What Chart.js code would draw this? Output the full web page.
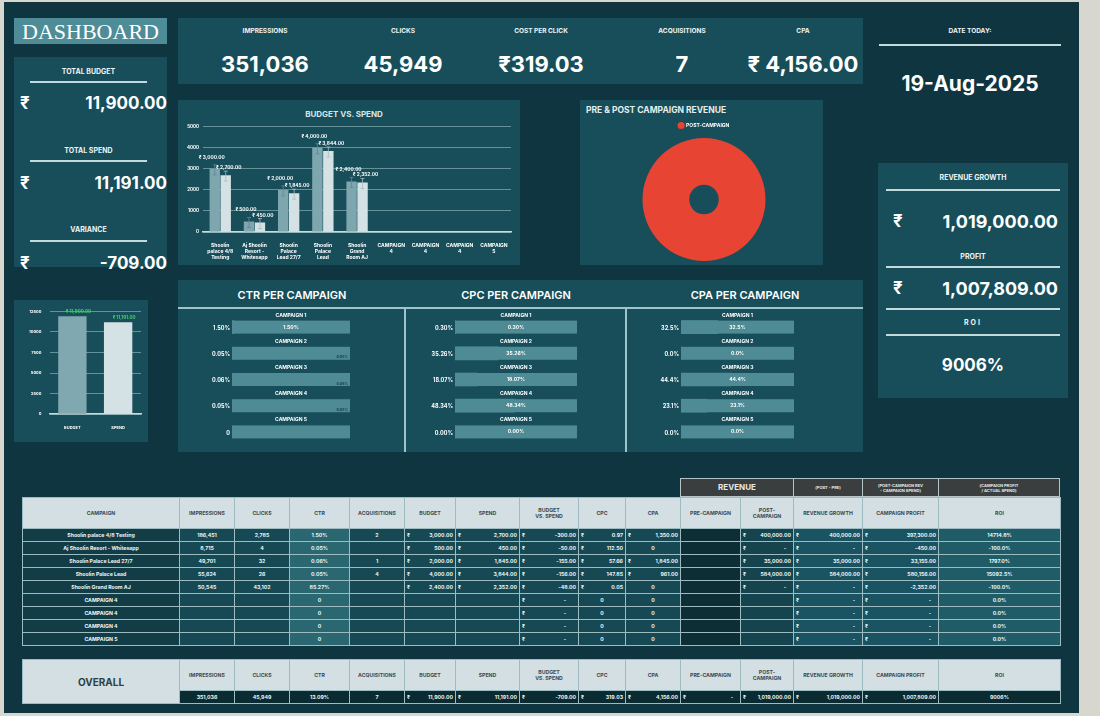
<!DOCTYPE html>
<html>
<head>
<meta charset="utf-8">
<script src="https://cdn.jsdelivr.net/npm/chart.js@4.4.1/dist/chart.umd.min.js"></script>
<style>
body{margin:0;width:1100px;height:716px;background:#d8d7cf;font-family:Inter,"Open Sans",sans-serif;overflow:hidden;position:relative;color:#fff}
.board{position:absolute;left:4px;top:2px;width:1075px;height:711px;background:#0e3540}
.panel{position:absolute;background:#184e5a}
.t{position:absolute;white-space:nowrap;font-weight:700;text-align:center}
.line{position:absolute;height:2px;background:#c3dbdc}
.lbl{font-size:7px;color:#eef4f4}
.big{font-size:17px}
canvas{position:absolute}
table{position:absolute;left:22px;border-collapse:collapse;table-layout:fixed;font-size:5.2px;font-weight:700;color:#eef6f6}
td{border:1px solid #9cbcc1;padding:0 2px;white-space:nowrap;overflow:hidden;text-align:center}
td.cur{text-align:right}
td.cur span{float:left}
tr.hd td{background:#d3dfe2;color:#3d4b4f;height:30px;white-space:normal;line-height:6px}
.rv{position:absolute;top:478px;height:19px;background:#3b3e3f;border:1px solid #b5c4c6;box-sizing:border-box;font-size:4px;font-weight:700;display:flex;align-items:center;justify-content:center;text-align:center;line-height:5px;color:#e8e8e8}
</style>
</head>
<body>
<div class="board"></div>

<!-- left column -->
<div class="t" style="left:14px;top:18px;width:153px;height:26px;background:#4e8c97;font-family:'Liberation Serif',serif;font-weight:400;font-size:22px;line-height:27px">DASHBOARD</div>
<div class="panel" style="left:14px;top:57px;width:153px;height:210px"></div>
<div class="t lbl" style="left:30px;top:67px;width:117px">TOTAL BUDGET</div>
<div class="line" style="left:30px;top:81px;width:117px"></div>
<div class="t big" style="left:20px;top:93px">₹</div>
<div class="t big" style="left:60px;top:93px;width:107px;text-align:right">11,900.00</div>
<div class="t lbl" style="left:30px;top:146px;width:117px">TOTAL SPEND</div>
<div class="line" style="left:30px;top:160px;width:117px"></div>
<div class="t big" style="left:20px;top:173px">₹</div>
<div class="t big" style="left:60px;top:173px;width:107px;text-align:right">11,191.00</div>
<div class="t lbl" style="left:30px;top:225px;width:117px">VARIANCE</div>
<div class="line" style="left:30px;top:240px;width:117px"></div>
<div class="t big" style="left:20px;top:253px">₹</div>
<div class="t big" style="left:60px;top:253px;width:107px;text-align:right">-709.00</div>
<div class="panel" style="left:14px;top:300px;width:134px;height:142px"></div>
<canvas id="totalChart" width="132" height="140" style="left:15px;top:301px"></canvas>

<!-- kpi strip -->
<div class="panel" style="left:178px;top:18px;width:685px;height:66px"></div>
<div class="t lbl" style="left:215px;top:27px;width:100px;font-size:6.5px">IMPRESSIONS</div>
<div class="t lbl" style="left:353px;top:27px;width:100px;font-size:6.5px">CLICKS</div>
<div class="t lbl" style="left:491px;top:27px;width:100px;font-size:6.5px">COST PER CLICK</div>
<div class="t lbl" style="left:632px;top:27px;width:100px;font-size:6.5px">ACQUISITIONS</div>
<div class="t lbl" style="left:753px;top:27px;width:100px;font-size:6.5px">CPA</div>
<div class="t" style="left:195px;top:51px;width:140px;font-size:22px">351,036</div>
<div class="t" style="left:333px;top:51px;width:140px;font-size:22px">45,949</div>
<div class="t" style="left:471px;top:51px;width:140px;font-size:22px">₹319.03</div>
<div class="t" style="left:612px;top:51px;width:140px;font-size:22px">7</div>
<div class="t" style="left:733px;top:51px;width:140px;font-size:22px">₹ 4,156.00</div>

<!-- budget vs spend -->
<div class="panel" style="left:178px;top:100px;width:342px;height:165px"></div>
<div class="t" style="left:178px;top:109px;width:332px;font-size:8px;color:#d7e5e7">BUDGET VS. SPEND</div>
<canvas id="bvsChart" width="336" height="142" style="left:181px;top:120px"></canvas>

<!-- revenue doughnut -->
<div class="panel" style="left:580px;top:100px;width:243px;height:165px"></div>
<div class="t" style="left:586px;top:105px;font-size:8.5px;color:#e4eeee">PRE &amp; POST CAMPAIGN REVENUE</div>
<canvas id="revChart" width="240" height="144" style="left:584px;top:117px"></canvas>

<!-- date + revenue growth -->
<div class="t lbl" style="left:900px;top:27px;width:140px;font-size:6.5px">DATE TODAY:</div>
<div class="line" style="left:879px;top:44px;width:182px"></div>
<div class="t" style="left:880px;top:71px;width:180px;font-size:21px">19-Aug-2025</div>
<div class="panel" style="left:878px;top:163px;width:190px;height:235px"></div>
<div class="t lbl" style="left:886px;top:173px;width:174px">REVENUE GROWTH</div>
<div class="line" style="left:886px;top:189px;width:174px"></div>
<div class="t big" style="left:893px;top:211px">₹</div>
<div class="t" style="left:900px;top:211px;width:158px;text-align:right;font-size:18px">1,019,000.00</div>
<div class="t lbl" style="left:886px;top:252px;width:174px">PROFIT</div>
<div class="line" style="left:886px;top:266px;width:174px"></div>
<div class="t big" style="left:893px;top:278px">₹</div>
<div class="t" style="left:900px;top:278px;width:158px;text-align:right;font-size:18px">1,007,809.00</div>
<div class="line" style="left:886px;top:308px;width:174px"></div>
<div class="t lbl" style="left:886px;top:318px;width:174px;letter-spacing:2px">ROI</div>
<div class="line" style="left:886px;top:334px;width:174px"></div>
<div class="t" style="left:886px;top:355px;width:174px;font-size:17px">9006%</div>

<!-- per campaign bars -->
<div class="panel" style="left:178px;top:280px;width:685px;height:172px"></div>
<div class="t" style="left:180px;top:288px;width:224px;font-size:11px;font-weight:600">CTR PER CAMPAIGN</div>
<div class="t" style="left:405px;top:288px;width:222px;font-size:11px;font-weight:600">CPC PER CAMPAIGN</div>
<div class="t" style="left:626px;top:288px;width:238px;font-size:11px;font-weight:600">CPA PER CAMPAIGN</div>
<div class="line" style="left:178px;top:307px;width:685px;background:#9fc4c8"></div>
<div class="line" style="left:404px;top:307px;width:2px;height:145px;background:#9fc4c8"></div>
<div class="line" style="left:625px;top:307px;width:2px;height:145px;background:#9fc4c8"></div>
<canvas id="ctrChart" width="223" height="141" style="left:180px;top:309px"></canvas>
<canvas id="cpcChart" width="217" height="141" style="left:407px;top:309px"></canvas>
<canvas id="cpaChart" width="233" height="141" style="left:628px;top:309px"></canvas>

<!-- table -->
<div class="rv" style="left:680px;width:114px;font-size:8px">REVENUE</div>
<div class="rv" style="left:793px;width:70px">(POST - PRE)</div>
<div class="rv" style="left:862px;width:77px">(POST-CAMPAIGN REV<br>- CAMPAIGN SPEND)</div>
<div class="rv" style="left:938px;width:122px">(CAMPAIGN PROFIT<br>/ ACTUAL SPEND)</div>
<table id="mainTable" style="top:497px;width:1038px"></table>
<table id="overallTable" style="top:659px;width:1038px"></table>

<script>
// budget vs spend chart
const bvsLabels = [['Shoolin', 'palace 4/8', 'Testing'], ['Aj Shoolin', 'Resort -', 'Whitesapp'], ['Shoolin', 'Palace', 'Lead 27/7'], ['Shoolin', 'Palace', 'Lead'], ['Shoolin', 'Grand', 'Room AJ'], ['CAMPAIGN', '4'], ['CAMPAIGN', '4'], ['CAMPAIGN', '4'], ['CAMPAIGN', '5']];
const bvsBudget = [3000, 500, 2000, 4000, 2400, null, null, null, null];
const bvsSpend = [2700, 450, 1845, 3844, 2352, null, null, null, null];

// pre & post revenue
const revLabels = ['PRE-CAMPAIGN', 'POST-CAMPAIGN'];
const revValues = [0, 1019000];

// total budget / spend
const totalLabels = ['BUDGET', 'SPEND'];
const totalValues = [11900, 11191];

// per campaign shares
const rowNames = ['CAMPAIGN 1', 'CAMPAIGN 2', 'CAMPAIGN 3', 'CAMPAIGN 4', 'CAMPAIGN 5'];
const ctrValues = [1.50, 0.05, 0.06, 0.05, 0];
const cpcValues = [0.30, 35.26, 18.07, 48.34, 0.00];
const cpaValues = [32.5, 0.0, 44.4, 23.1, 0.0];

// table columns
const tblHeaders = ['CAMPAIGN', 'IMPRESSIONS', 'CLICKS', 'CTR', 'ACQUISITIONS', 'BUDGET', 'SPEND', 'BUDGET<br>vs. SPEND', 'CPC', 'CPA', 'PRE-CAMPAIGN', 'POST-<br>CAMPAIGN', 'REVENUE GROWTH', 'CAMPAIGN PROFIT', 'ROI'];
const tblCampaign = ['Shoolin palace 4/8 Testing', 'Aj Shoolin Resort - Whitesapp', 'Shoolin Palace Lead 27/7', 'Shoolin Palace Lead', 'Shoolin Grand Room AJ', 'CAMPAIGN 4', 'CAMPAIGN 4', 'CAMPAIGN 4', 'CAMPAIGN 5'];
const tblImpressions = [186451, 8715, 49701, 55624, 50545, null, null, null, null];
const tblClicks = [2785, 4, 32, 26, 43102, null, null, null, null];
const tblCtr = [1.50, 0.05, 0.06, 0.05, 85.27, 0, 0, 0, 0];
const tblAcq = [2, null, 1, 4, null, null, null, null, null];
const tblBudget = [3000, 500, 2000, 4000, 2400, null, null, null, null];
const tblSpend = [2700, 450, 1845, 3844, 2352, null, null, null, null];
const tblBvs = [-300, -50, -155, -156, -48, null, null, null, null];
const tblCpc = [0.97, 112.50, 57.66, 147.85, 0.05, 0, 0, 0, 0];
const tblCpa = [1350, 0, 1845, 961, 0, 0, 0, 0, 0];
const tblPost = [400000, 0, 35000, 584000, 0, null, null, null, null];
const tblGrowth = [400000, 0, 35000, 584000, 0, 0, 0, 0, 0];
const tblProfit = [397300, -450, 33155, 580156, -2352, 0, 0, 0, 0];
const tblRoi = [14714.8, -100.0, 1797.0, 15092.5, -100.0, 0, 0, 0, 0];
const overallValues = ['351,036', '45,949', '13.09%', '7', 11900, 11191, -709, 319.03, 4156, 0, 1019000, 1019000, 1007809, '9006%'];

const colWidths = [157, 55, 55, 60, 55, 51, 64, 59, 47, 55, 60, 53, 69, 76, 122];
const colBg = ['#123c46', '#174955', '#174955', '#2b6771', '#174955', '#174955', '#174955', '#174955', '#174955', '#174955', '#0e2e36', '#15434e', '#1a5361', '#1a5361', '#1f5c68'];

const money = v => v.toLocaleString('en-US', { minimumFractionDigits: 2, maximumFractionDigits: 2 });
const curCell = v => `<td class="cur"><span>₹</span>${v === 0 ? '- &nbsp;&nbsp;&nbsp;' : money(v)}</td>`;

function buildTable() {
    const t = document.getElementById('mainTable');
    let html = '<colgroup>' + colWidths.map(w => `<col style="width:${w}px">`).join('') + '</colgroup>';
    html += '<tr class="hd">' + tblHeaders.map(h => `<td>${h.toUpperCase()}</td>`).join('') + '</tr>';
    for (let i = 0; i < tblCampaign.length; i++) {
        const cells = [];
        cells.push(`<td>${tblCampaign[i]}</td>`);
        cells.push(`<td>${tblImpressions[i] === null ? '' : tblImpressions[i].toLocaleString('en-US')}</td>`);
        cells.push(`<td>${tblClicks[i] === null ? '' : tblClicks[i].toLocaleString('en-US')}</td>`);
        cells.push(`<td>${tblCtr[i] === 0 ? '0' : tblCtr[i].toFixed(2) + '%'}</td>`);
        cells.push(`<td>${tblAcq[i] === null ? '' : tblAcq[i]}</td>`);
        cells.push(tblBudget[i] === null ? '<td></td>' : curCell(tblBudget[i]));
        cells.push(tblSpend[i] === null ? '<td></td>' : curCell(tblSpend[i]));
        cells.push(tblBvs[i] === null ? '<td class="cur"><span>₹</span>- &nbsp;&nbsp;&nbsp;&nbsp;&nbsp;&nbsp;&nbsp;</td>' : curCell(tblBvs[i]));
        cells.push(tblCpc[i] === 0 ? '<td>0</td>' : curCell(tblCpc[i]));
        cells.push(tblCpa[i] === 0 ? '<td>0</td>' : curCell(tblCpa[i]));
        cells.push('<td></td>');
        cells.push(tblPost[i] === null ? '<td></td>' : curCell(tblPost[i]));
        cells.push(curCell(tblGrowth[i]));
        cells.push(curCell(tblProfit[i]));
        cells.push(`<td>${tblRoi[i].toFixed(1)}%</td>`);
        html += '<tr style="height:13px">' + cells.map((c, j) => c.replace('<td', `<td style="background:${colBg[j]}"`)).join('') + '</tr>';
    }
    t.innerHTML = html;

    // overall block
    const o = document.getElementById('overallTable');
    let oh = '<colgroup>' + colWidths.map(w => `<col style="width:${w}px">`).join('') + '</colgroup>';
    oh += '<tr class="hd" style="height:31px"><td rowspan="2" style="font-size:10px;color:#2f3f44;border-right:1px solid #9cbcc1">OVERALL</td>' +
        tblHeaders.slice(1).map(h => `<td>${h.toUpperCase()}</td>`).join('') + '</tr>';
    oh += '<tr style="height:13px">' + overallValues.map(v => {
        if (typeof v === 'string') return `<td style="background:#0b2b32">${v}</td>`;
        return curCell(v).replace('<td', '<td style="background:#0b2b32"');
    }).join('') + '</tr>';
    o.innerHTML = oh;
    o.querySelector('td[rowspan]').style.background = '#d3dfe2';
}
buildTable();

Chart.defaults.font.family = 'Inter, sans-serif';
Chart.defaults.font.weight = 'bold';
Chart.defaults.color = '#ffffff';
Chart.defaults.animation = false;

// draws ₹ labels above bars
const barLabels = {
    id: 'barLabels',
    afterDatasetsDraw(chart, args, opts) {
        const ctx = chart.ctx;
        ctx.save();
        ctx.font = `bold ${opts.size}px Inter, sans-serif`;
        ctx.fillStyle = opts.color;
        ctx.textAlign = 'center';
        chart.data.datasets.forEach((ds, di) => {
            chart.getDatasetMeta(di).data.forEach((bar, i) => {
                const v = ds.data[i];
                if (v === null || v === undefined) return;
                if (opts.errorBars) {
                    ctx.strokeStyle = di === 0 ? '#5d8a93' : '#a9bcc0';
                    ctx.lineWidth = 0.8;
                    ctx.beginPath();
                    ctx.moveTo(bar.x, bar.y - 4); ctx.lineTo(bar.x, bar.y + 6);
                    ctx.moveTo(bar.x - 2, bar.y - 4); ctx.lineTo(bar.x + 2, bar.y - 4);
                    ctx.moveTo(bar.x - 2, bar.y + 6); ctx.lineTo(bar.x + 2, bar.y + 6);
                    ctx.stroke();
                }
                ctx.fillText('₹ ' + money(v), bar.x + (opts.shift ? opts.shift[di] : 0), bar.y - opts.gap[di]);
            });
        });
        ctx.restore();
    }
};

new Chart(document.getElementById('bvsChart'), {
    type: 'bar',
    data: {
        labels: bvsLabels,
        datasets: [
            { label: 'Budget', data: bvsBudget, backgroundColor: '#7ea6ae', categoryPercentage: 0.64, barPercentage: 0.95 },
            { label: 'Spend', data: bvsSpend, backgroundColor: '#d4e2e5', categoryPercentage: 0.64, barPercentage: 0.95 }
        ]
    },
    options: {
        responsive: false,
        layout: { padding: { top: 4, right: 6, left: 2, bottom: 0 } },
        plugins: {
            legend: { display: false },
            tooltip: { enabled: false },
            barLabels: { size: 4.8, color: '#ffffff', gap: [10, 6], shift: [-3, 3], errorBars: true }
        },
        scales: {
            x: {
                grid: { display: false },
                border: { color: '#c8dadd', width: 1.5 },
                ticks: { font: { size: 5 }, maxRotation: 0, autoSkip: false, padding: 2 }
            },
            y: {
                min: 0, max: 5000,
                ticks: { stepSize: 1000, font: { size: 4.5 }, padding: 4, callback: v => String(v) },
                grid: { color: '#7aa2a9', lineWidth: 0.8, drawTicks: false },
                border: { display: false }
            }
        }
    },
    plugins: [barLabels]
});

new Chart(document.getElementById('revChart'), {
    type: 'doughnut',
    data: {
        labels: revLabels,
        datasets: [{ data: revValues, backgroundColor: ['#4d8a94', '#e84434'], borderWidth: 0 }]
    },
    options: {
        responsive: false,
        cutout: '24%',
        layout: { padding: { bottom: 0 } },
        plugins: {
            tooltip: { enabled: false },
            legend: {
                position: 'top',
                labels: {
                    filter: (item, data) => data.datasets[0].data[item.index] > 0,
                    usePointStyle: true, pointStyle: 'circle', boxWidth: 5, boxHeight: 5,
                    color: '#ffffff', font: { size: 5 }, padding: 6
                }
            }
        }
    }
});

new Chart(document.getElementById('totalChart'), {
    type: 'bar',
    data: {
        labels: totalLabels,
        datasets: [{ data: totalValues, backgroundColor: ['#80a8b0', '#d4e2e5'], categoryPercentage: 0.62, barPercentage: 1 }]
    },
    options: {
        responsive: false,
        layout: { padding: { top: 8, right: 6, left: 6, bottom: 8 } },
        plugins: {
            legend: { display: false },
            tooltip: { enabled: false },
            barLabels: { size: 4.5, color: '#3fd36a', gap: [3, 3], shift: [6, 4] }
        },
        scales: {
            x: { grid: { display: false }, border: { color: '#c8dadd', width: 1.5 }, ticks: { font: { size: 4 }, padding: 3 } },
            y: {
                min: 0, max: 12500,
                ticks: { stepSize: 2500, font: { size: 4 }, padding: 8, callback: v => String(v) },
                grid: { color: '#7aa2a9', lineWidth: 0.8, drawTicks: false },
                border: { display: false }
            }
        }
    },
    plugins: [barLabels]
});

// full width bars with campaign name above and values beside / inside
const barList = {
    id: 'barList',
    beforeDatasetsDraw(chart, args, opts) {
        const ctx = chart.ctx;
        const area = chart.chartArea;
        ctx.save();
        ctx.fillStyle = '#4e8b95';
        chart.getDatasetMeta(0).data.forEach(bar => {
            ctx.fillRect(area.left, bar.y - 6.5, area.right - area.left, 13);
        });
        ctx.restore();
    },
    afterDatasetsDraw(chart, args, opts) {
        const ctx = chart.ctx;
        const area = chart.chartArea;
        const mid = (area.left + area.right) / 2;
        const vals = chart.data.datasets[0].data;
        ctx.save();
        ctx.textBaseline = 'middle';
        chart.getDatasetMeta(0).data.forEach((bar, i) => {
            ctx.fillStyle = '#ffffff';
            ctx.font = 'bold 5px Inter, sans-serif';
            ctx.textAlign = 'center';
            ctx.fillText(chart.data.labels[i], mid, bar.y - 12);
            const txt = opts.fmt(vals[i]);
            ctx.font = 'bold 5.5px Inter, sans-serif';
            ctx.textAlign = 'right';
            ctx.fillText(txt, area.left - 2, bar.y + 1);
            ctx.font = 'bold 5px Inter, sans-serif';
            if (opts.endSmall && vals[i] < 1) {
                if (vals[i] > 0) {
                    ctx.fillStyle = '#1c3c44';
                    ctx.font = 'bold 3.5px Inter, sans-serif';
                    ctx.fillText(txt, area.right - 2, bar.y + 4);
                }
            } else {
                ctx.textAlign = 'center';
                ctx.fillText(txt, mid, bar.y);
            }
        });
        ctx.restore();
    }
};

function makeBarList(id, values, fmt, padLeft, padRight, endSmall) {
    new Chart(document.getElementById(id), {
        type: 'bar',
        data: {
            labels: rowNames,
            datasets: [{ data: values, backgroundColor: '#4e8b95', barThickness: 13 }]
        },
        options: {
            indexAxis: 'y',
            responsive: false,
            layout: { padding: { left: padLeft, right: padRight, top: 5, bottom: 5 } },
            scales: { x: { display: false, min: 0, max: 100 }, y: { display: false } },
            plugins: { legend: { display: false }, tooltip: { enabled: false }, barList: { fmt: fmt, endSmall: endSmall } }
        },
        plugins: [barList]
    });
}

makeBarList('ctrChart', ctrValues, v => v === 0 ? '0' : v.toFixed(2) + '%', 52, 53, true);
makeBarList('cpcChart', cpcValues, v => v.toFixed(2) + '%', 48, 47, false);
makeBarList('cpaChart', cpaValues, v => v.toFixed(1) + '%', 53, 67, false);
</script>
</body>
</html>
